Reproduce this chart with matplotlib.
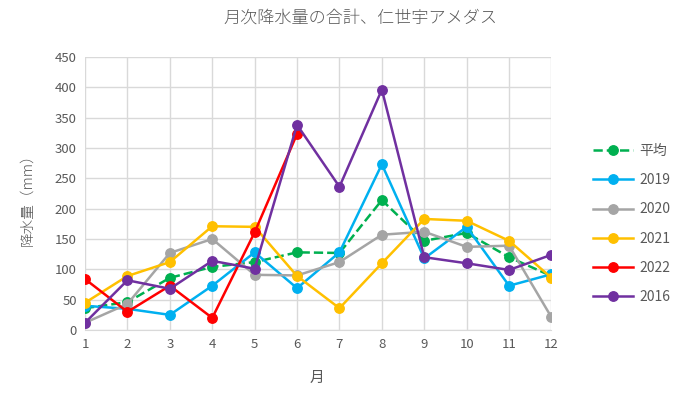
import numpy as np
import matplotlib.pyplot as plt

plt.rcParams['font.family'] = ['Noto Sans CJK JP', 'DejaVu Sans']

months = np.arange(1, 13)

# 月次降水量 (mm)
heikin = [36, 46, 86, 104, 112, 128, 127, 214, 147, 160, 120, 89]
y2019 = [40, 35, 25, 73, 128, 69, 128, 273, 118, 170, 73, 92]
y2020 = [12, 43, 127, 150, 91, 90, 112, 157, 162, 137, 139, 21]
y2021 = [45, 89, 112, 171, 170, 89, 36, 110, 183, 180, 147, 86]
y2022 = [84, 30, 73, 20, 161, 323]
y2016 = [12, 82, 68, 114, 101, 338, 236, 396, 120, 110, 99, 124]

fig = plt.figure(figsize=(6.77, 4.09), dpi=100)
ax = fig.add_axes([0.1256, 0.193, 0.689, 0.668])

lw = 1.8
ms = 6.8
ax.plot(months, heikin, color='#00B050', ls='--', lw=lw, marker='o', ms=ms, label='平均', zorder=3)
ax.plot(months, y2019, color='#00B0F0', lw=lw, marker='o', ms=ms, label='2019', zorder=3)
ax.plot(months, y2020, color='#A5A5A5', lw=lw, marker='o', ms=ms, label='2020', zorder=3)
ax.plot(months, y2021, color='#FFC000', lw=lw, marker='o', ms=ms, label='2021', zorder=3)
ax.plot(months[:len(y2022)], y2022, color='#FF0000', lw=lw, marker='o', ms=ms, label='2022', zorder=3)
ax.plot(months, y2016, color='#7030A0', lw=lw, marker='o', ms=ms, label='2016', zorder=3)

ax.set_xlim(1, 12)
ax.set_ylim(0, 450)
ax.set_xticks(months)
ax.set_yticks(np.arange(0, 451, 50))
ax.grid(True, color='#D9D9D9', lw=1)
for s in ['top', 'right', 'left']:
    ax.spines[s].set_visible(False)
ax.spines['bottom'].set_color('#D9D9D9')
ax.tick_params(length=0, labelsize=9.5, colors='#595959', pad=6)

fig.text(0.533, 0.956, '月次降水量の合計、仁世宇アメダス', color='#595959',
         fontsize=12.3, ha='center', va='center', fontweight='light')
fig.text(0.468, 0.076, '月', color='#595959', fontsize=10.5, ha='center', va='center')
fig.text(0.04, 0.52, '降水量（mm）', color='#595959', fontsize=10.5,
         ha='center', va='center', rotation=90, fontweight='light')

leg = ax.legend(loc='center left', bbox_to_anchor=(1.062, 0.388), frameon=False,
                fontsize=10, labelspacing=1.1, handlelength=2.9, handletextpad=0.45)
for t in leg.get_texts():
    t.set_color('#595959')

fig.savefig('out.png', dpi=100)
